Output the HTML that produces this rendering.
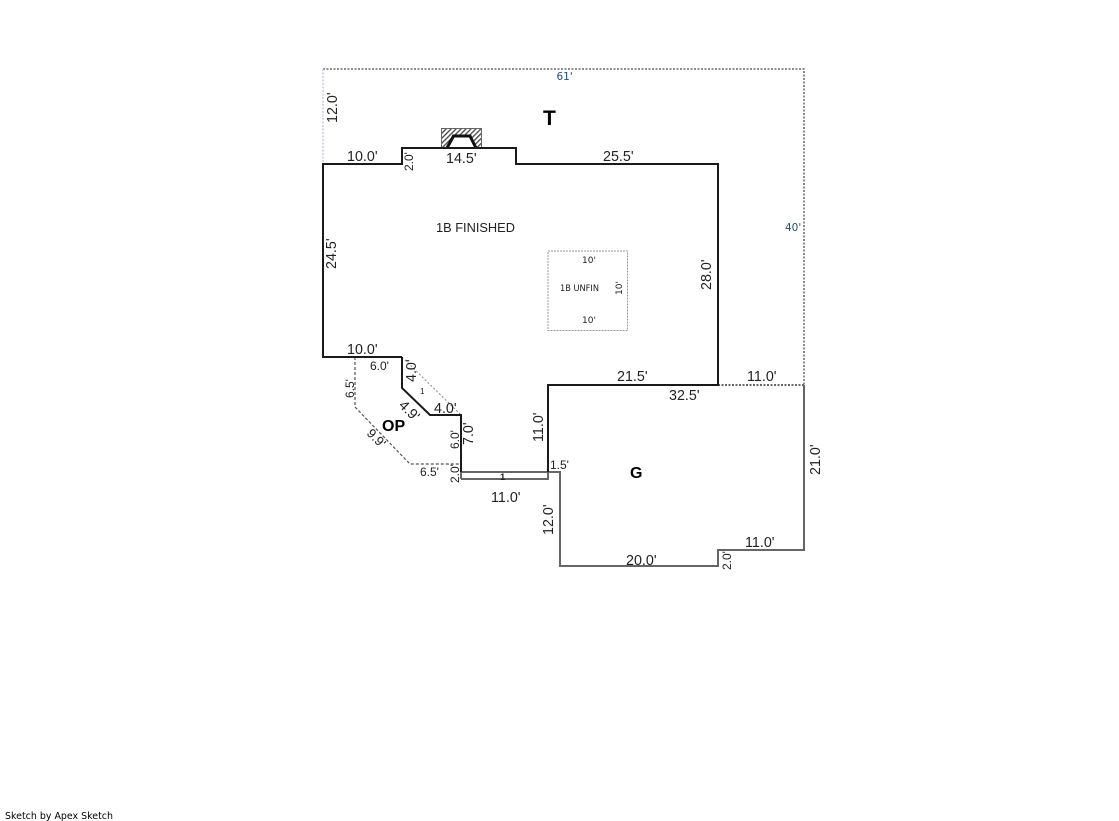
<!DOCTYPE html>
<html>
<head>
<meta charset="utf-8">
<style>
html,body{margin:0;padding:0;background:#fff;width:1119px;height:821px;overflow:hidden}
svg{display:block}
text{font-family:"Liberation Sans",Arial,sans-serif;font-size:14.3px;fill:#222}
.s{font-size:12px}
.b{font-weight:bold;fill:#000}
.d{font-family:"DejaVu Sans",sans-serif;font-size:9px}
.blue{font-family:"DejaVu Sans",sans-serif;font-size:10.5px;fill:#1f4e79}
</style>
</head>
<body>
<svg width="1119" height="821" viewBox="0 0 1119 821" xmlns="http://www.w3.org/2000/svg">
<defs>
<pattern id="h" width="3.5" height="3.5" patternUnits="userSpaceOnUse" patternTransform="rotate(45)">
<rect width="3.5" height="3.5" fill="#fff"/><rect width="1.3" height="3.5" fill="#444"/>
</pattern>
</defs>

<!-- T outline -->
<path d="M323 69H804V385" fill="none" stroke="#666" stroke-width="1.5" stroke-dasharray="2 1.5"/>
<path d="M323 69V164" fill="none" stroke="#c8c8ee" stroke-width="1.5" stroke-dasharray="2 1.5"/>

<!-- Chimney -->
<rect x="441.5" y="128.5" width="40" height="19" fill="url(#h)" stroke="#666"/>
<path d="M446 148L453 135H471L477 148Z" fill="#fff"/>
<path d="M447 148L453.5 136H470L476 148" fill="none" stroke="#111" stroke-width="3"/>

<!-- G outline -->
<path d="M548 472H560V566H718V550H804V385" fill="none" stroke="#666" stroke-width="2"/>
<path d="M718 385H804" fill="none" stroke="#666" stroke-width="2" stroke-dasharray="2 1.5"/>

<!-- Bottom strip -->
<path d="M461 472H548M461 479H548V472M461 472V479" fill="none" stroke="#666" stroke-width="2"/>

<!-- OP -->
<path d="M355 357V407L410 464H461" fill="none" stroke="#555" stroke-width="1.2" stroke-dasharray="3 2"/>
<path d="M402 357L461 415" fill="none" stroke="#888" stroke-width="1" stroke-dasharray="2 2"/>

<!-- Main outline -->
<path d="M402 357H323V164H402V148H516V164H718V385H548V472" fill="none" stroke="#1a1a1a" stroke-width="2"/>
<path d="M402 357V388L430 415H461V472" fill="none" stroke="#1a1a1a" stroke-width="2"/>

<!-- Unfinished box -->
<rect x="548" y="251" width="79.5" height="79.5" fill="none" stroke="#999" stroke-width="1" stroke-dasharray="2 1"/>

<!-- Top labels -->
<text x="556.5" y="80" class="blue">61'</text>
<text x="785" y="231" class="blue">40'</text>
<text x="543" y="125" class="b" style="font-size:21px">T</text>
<text x="347" y="161">10.0'</text>
<text x="446" y="163">14.5'</text>
<text x="603" y="161">25.5'</text>
<text x="436" y="232" style="font-size:12.8px">1B FINISHED</text>

<text transform="translate(337,123) rotate(-90)">12.0'</text>
<text transform="translate(413,171) rotate(-90)" class="s">2.0'</text>
<text transform="translate(336,269) rotate(-90)">24.5'</text>
<text transform="translate(711,290) rotate(-90)">28.0'</text>

<!-- Unfin labels -->
<text x="582" y="263" class="d">10'</text>
<text x="582" y="323" class="d">10'</text>
<text x="560" y="291" class="d" textLength="39" lengthAdjust="spacingAndGlyphs">1B UNFIN</text>
<text transform="translate(622,295) rotate(-90)" class="d">10'</text>

<!-- OP labels -->
<text x="347" y="354">10.0'</text>
<text x="370" y="370" class="s">6.0'</text>
<text transform="translate(354,398) rotate(-90)" class="s">6.5'</text>
<text transform="translate(416,382) rotate(-90)">4.0'</text>
<text x="420" y="394" style="font-size:8px">1</text>
<text transform="translate(398,406) rotate(45)">4.9'</text>
<text x="434" y="413">4.0'</text>
<text x="382" y="431" class="b" style="font-size:16px">OP</text>
<text transform="translate(366,434) rotate(45)" style="font-size:13px">9.9'</text>
<text x="420" y="476" class="s">6.5'</text>
<text transform="translate(459,449) rotate(-90)" class="s">6.0'</text>
<text transform="translate(473,445) rotate(-90)">7.0'</text>
<text transform="translate(459,483) rotate(-90)" class="s">2.0'</text>
<text x="500" y="480" style="font-size:9.5px;font-weight:bold">1</text>
<text x="491" y="502">11.0'</text>

<!-- G labels -->
<text transform="translate(543,442) rotate(-90)">11.0'</text>
<text x="617" y="381">21.5'</text>
<text x="747" y="381">11.0'</text>
<text x="669" y="400">32.5'</text>
<text x="550" y="469" class="s">1.5'</text>
<text x="630" y="478" class="b" style="font-size:16px">G</text>
<text transform="translate(820,475) rotate(-90)">21.0'</text>
<text transform="translate(553,535) rotate(-90)">12.0'</text>
<text x="626" y="565">20.0'</text>
<text x="745" y="547">11.0'</text>
<text transform="translate(731,570) rotate(-90)" class="s">2.0'</text>

<!-- Footer -->
<text x="5" y="819" style="font-family:'DejaVu Sans',sans-serif;font-size:10px;fill:#000" textLength="108" lengthAdjust="spacingAndGlyphs">Sketch by Apex Sketch</text>
</svg>
</body>
</html>
